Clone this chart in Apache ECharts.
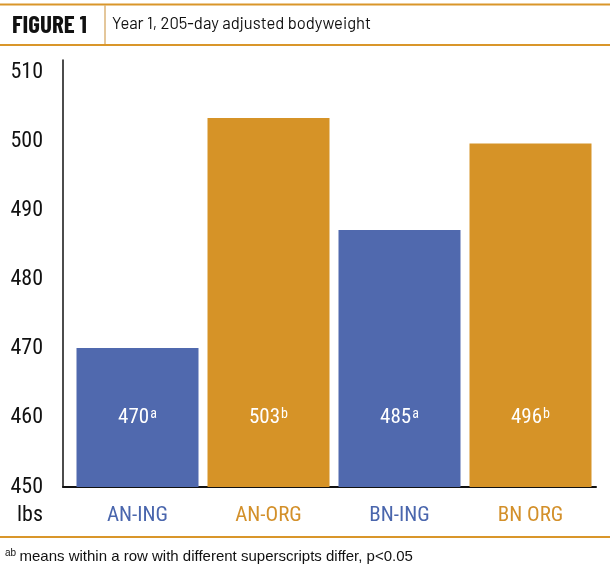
<!DOCTYPE html>
<html>
<head>
<meta charset="utf-8">
<script src="https://cdn.jsdelivr.net/npm/echarts@6/dist/echarts.min.js"></script>
<style>html,body{margin:0;padding:0;background:#fff}#c{width:610px;height:571px}</style>
</head>
<body>
<div id="c"></div>
<script>
var categories = ['AN-ING', 'AN-ORG', 'BN-ING', 'BN ORG'];
var barValues = [470.1, 503.4, 487.2, 499.7];
var labelValues = ['470', '503', '485', '496'];
var superscripts = ['a', 'b', 'a', 'b'];
var yTicks = [450, 460, 470, 480, 490, 500, 510];

var BLUE = '#5069ae', ORANGE = '#d69327';
var barColors = [BLUE, ORANGE, BLUE, ORANGE];
var textColors = ['#4a66ad', '#d3902a', '#4a66ad', '#d3902a'];
var NARROW = '"Roboto Condensed", "Liberation Sans", Arial, sans-serif';
var TITLE = 'Barlow, "Roboto Condensed", sans-serif';

var chart = echarts.init(document.getElementById('c'), null, {renderer: 'canvas'});
var yMin = yTicks[0], yMax = 511.8;

chart.setOption({
  animation: false,
  backgroundColor: '#fff',
  grid: [
    {left: 72, right: 14, top: 60, bottom: 84},
    {left: 63, right: 14, top: 60, bottom: 84}
  ],
  xAxis: [
    {
      type: 'category', gridIndex: 0, data: categories,
      axisLine: {show: false}, axisTick: {show: false},
      axisLabel: {
        margin: 18, fontFamily: NARROW, fontSize: 21,
        color: function (v, i) { return textColors[i]; }
      }
    },
    {
      type: 'category', gridIndex: 1, data: categories,
      axisLine: {show: true, lineStyle: {color: '#111', width: 2}},
      axisTick: {show: false}, axisLabel: {show: false}
    }
  ],
  yAxis: [
    {
      type: 'value', gridIndex: 0, min: yMin, max: yMax, interval: 10,
      offset: 9,
      axisLine: {show: true, lineStyle: {color: '#111', width: 1.5}},
      axisTick: {show: false}, splitLine: {show: false},
      axisLabel: {
        showMaxLabel: false, margin: 20, fontFamily: NARROW, fontSize: 22,
        color: '#111', padding: [0, 0, 9, 0]
      }
    },
    {
      type: 'value', gridIndex: 1, min: yMin, max: yMax, show: false
    }
  ],
  series: [{
    type: 'bar', xAxisIndex: 0, yAxisIndex: 0,
    barWidth: 122,
    data: barValues.map(function (v, i) {
      return {value: v, itemStyle: {color: barColors[i]}};
    }),
    label: {
      show: true, position: 'insideBottom', distance: 58,
      formatter: function (p) {
        return '{v|' + labelValues[p.dataIndex] + '}{s|' + superscripts[p.dataIndex] + '}';
      },
      rich: {
        v: {color: '#fff', fontFamily: NARROW, fontSize: 21, lineHeight: 22},
        s: {color: '#fff', fontFamily: NARROW, fontSize: 14, lineHeight: 22, verticalAlign: 'top', padding: [0, 0, 12, 1]}
      }
    }
  }],
  graphic: [
    {type: 'line', shape: {x1: 0, y1: 4.5, x2: 610, y2: 4.5}, style: {stroke: '#d9962a', lineWidth: 2}},
    {type: 'line', shape: {x1: 0, y1: 45, x2: 610, y2: 45}, style: {stroke: '#d9962a', lineWidth: 2}},
    {type: 'line', shape: {x1: 105, y1: 5, x2: 105, y2: 44}, style: {stroke: '#dbb57a', lineWidth: 1.5}},
    {type: 'text', left: 12, top: 12, style: {text: 'FIGURE 1', fontFamily: '"Barlow Condensed", "Roboto Condensed", sans-serif', fontWeight: 'bold', fontSize: 25, fill: '#111'}},
    {type: 'text', left: 112, top: 15, style: {text: 'Year 1, 205-day adjusted bodyweight', fontFamily: TITLE, fontSize: 16.6, fill: '#111'}},
    {type: 'text', left: 17, top: 504, style: {text: 'lbs', fontFamily: NARROW, fontSize: 22, fill: '#111'}},
    {type: 'line', shape: {x1: 0, y1: 537, x2: 610, y2: 537}, style: {stroke: '#d9962a', lineWidth: 2}},
    {type: 'text', left: 5, top: 548, style: {
      text: '{s|ab} {t|means within a row with different superscripts differ, p<0.05}',
      rich: {
        s: {fontFamily: '"Liberation Sans", Arial, sans-serif', fontSize: 10, fill: '#111', verticalAlign: 'top', lineHeight: 18},
        t: {fontFamily: '"Liberation Sans", Arial, sans-serif', fontSize: 15, fill: '#111', lineHeight: 18}
      }
    }}
  ]
});
</script>
</body>
</html>
